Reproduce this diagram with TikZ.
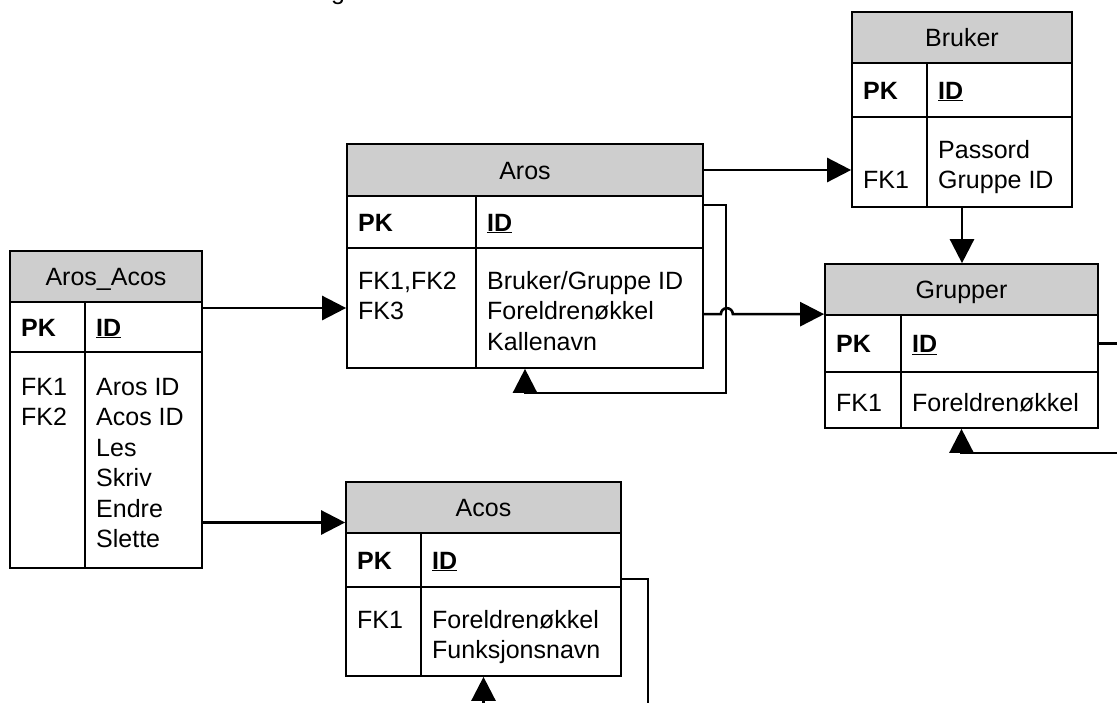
\documentclass[tikz,border=0pt]{standalone}
\usepackage{fontspec}
\setmainfont{Liberation Sans}
\usetikzlibrary{arrows.meta,fit,calc}
\definecolor{hdrgray}{RGB}{206,206,206}
\tikzset{
  hdrbox/.style={draw=black, line width=1.7pt, fill=hdrgray, inner sep=0pt},
  rowbox/.style={draw=black, line width=1.7pt, fill=white, inner sep=0pt},
  tline/.style={draw=black, line width=1.7pt},
  txt/.style={anchor=base west, inner sep=0pt, font=\fontsize{25}{30}\selectfont},
  ttl/.style={anchor=base, inner sep=0pt, font=\fontsize{25}{30}\selectfont},
  pk/.style={txt, font=\fontsize{25}{30}\selectfont\bfseries},
  conn/.style={draw=black, line width=2.6pt, -{Triangle[length=24pt,width=24pt]}},
  plain/.style={draw=black, line width=2.6pt}
}
\newcommand{\ertbl}[8]{%
  \node[hdrbox, fit={(#2,#5) (#3,#6)}] (#1h) {};
  \node[rowbox, fit={(#2,#6) (#3,#7)}] (#1k) {};
  \node[rowbox, fit={(#2,#7) (#3,#8)}] (#1b) {};
  \draw[tline] (#4,#6) -- (#4,#8);
}
\newcommand{\idtxt}{\underline{ID}}
\begin{document}
\begin{tikzpicture}[x=1pt,y=-1pt]
\fill[white] (0,0) rectangle (1117,702);
\useasboundingbox (0,0) rectangle (1117,702);

% cropped text fragment at the top
\node[txt] (topg) at (331,-1) {g};

% tables
\ertbl{aros}{347}{703}{476}{144}{196}{248}{368}
\ertbl{bruker}{852}{1072}{927}{12}{63}{117}{207}
\ertbl{grupper}{825}{1098}{901}{264}{315}{372}{428}
\ertbl{aa}{10}{202}{85}{251}{302}{352}{568}
\ertbl{acos}{346}{621}{421}{482}{533}{587}{676}

% Aros texts
\node[ttl] (arosT) at (525,179) {Aros};
\node[pk] (arosPK) at (358,231) {PK};
\node[pk] (arosID) at (487,231) {\idtxt};
\node[txt] (arosL1) at (358,289) {FK1,FK2};
\node[txt] (arosL2) at (358,319.5) {FK3};
\node[txt] (arosR1) at (487,289) {Bruker/Gruppe ID};
\node[txt] (arosR2) at (487,319.5) {Foreldrenøkkel};
\node[txt] (arosR3) at (487,350) {Kallenavn};

% Bruker texts
\node[ttl] (brukerT) at (962,46.5) {Bruker};
\node[pk] (brukerPK) at (863,99) {PK};
\node[pk] (brukerID) at (938,99) {\idtxt};
\node[txt] (brukerL1) at (863,188) {FK1};
\node[txt] (brukerR1) at (938,158) {Passord};
\node[txt] (brukerR2) at (938,188) {Gruppe ID};

% Grupper texts
\node[ttl] (grupperT) at (961.5,298.5) {Grupper};
\node[pk] (grupperPK) at (836,352.5) {PK};
\node[pk] (grupperID) at (912,352.5) {\idtxt};
\node[txt] (grupperL1) at (836,411) {FK1};
\node[txt] (grupperR1) at (912,411) {Foreldrenøkkel};

% Aros_Acos texts
\node[ttl] (aaT) at (106,285.5) {Aros\_Acos};
\node[pk] (aaPK) at (21,336) {PK};
\node[pk] (aaID) at (96,336) {\idtxt};
\node[txt] (aaL1) at (21,395) {FK1};
\node[txt] (aaL2) at (21,425.5) {FK2};
\node[txt] (aaR1) at (96,395) {Aros ID};
\node[txt] (aaR2) at (96,425.5) {Acos ID};
\node[txt] (aaR3) at (96,456) {Les};
\node[txt] (aaR4) at (96,486.5) {Skriv};
\node[txt] (aaR5) at (96,517) {Endre};
\node[txt] (aaR6) at (96,547.5) {Slette};

% Acos texts
\node[ttl] (acosT) at (483.5,516.5) {Acos};
\node[pk] (acosPK) at (357,569) {PK};
\node[pk] (acosID) at (432,569) {\idtxt};
\node[txt] (acosL1) at (357,628) {FK1};
\node[txt] (acosR1) at (432,628) {Foreldrenøkkel};
\node[txt] (acosR2) at (432,658.5) {Funksjonsnavn};

% free ends and bends
\coordinate (arosloop) at (726,393);
\coordinate (gout) at (1125,453);
\coordinate (acout) at (648,712);
\coordinate (acin) at (0,712);

% connectors
\draw[conn] (arosb.west -| aab.east) -- (arosb.west);
\draw[conn] ([yshift=-15pt]acosh.west -| aab.east) -- ([yshift=-15pt]acosh.west);
\draw[conn] (arosh.east) -- (arosh.east -| brukerb.west);
\draw[conn] (arosb.east |- grupperk.north west) -- ++(17,0)
   arc[start angle=180, end angle=0, radius=6pt] -- (grupperk.north west);
\draw[conn] ([yshift=-10pt]arosk.north east) -| (arosloop) -| (arosb.south);
\draw[conn] (brukerb.south) -- (brukerb.south |- grupperh.north);
\draw[plain] (grupperk.east) -- (grupperk.east -| gout);
\draw[conn] (gout) -| (grupperb.south);
\draw[plain] ([yshift=9pt]acosk.south east) -| (acout);
\draw[conn] (acosb.south |- acin) -- (acosb.south);
\end{tikzpicture}
\end{document}
